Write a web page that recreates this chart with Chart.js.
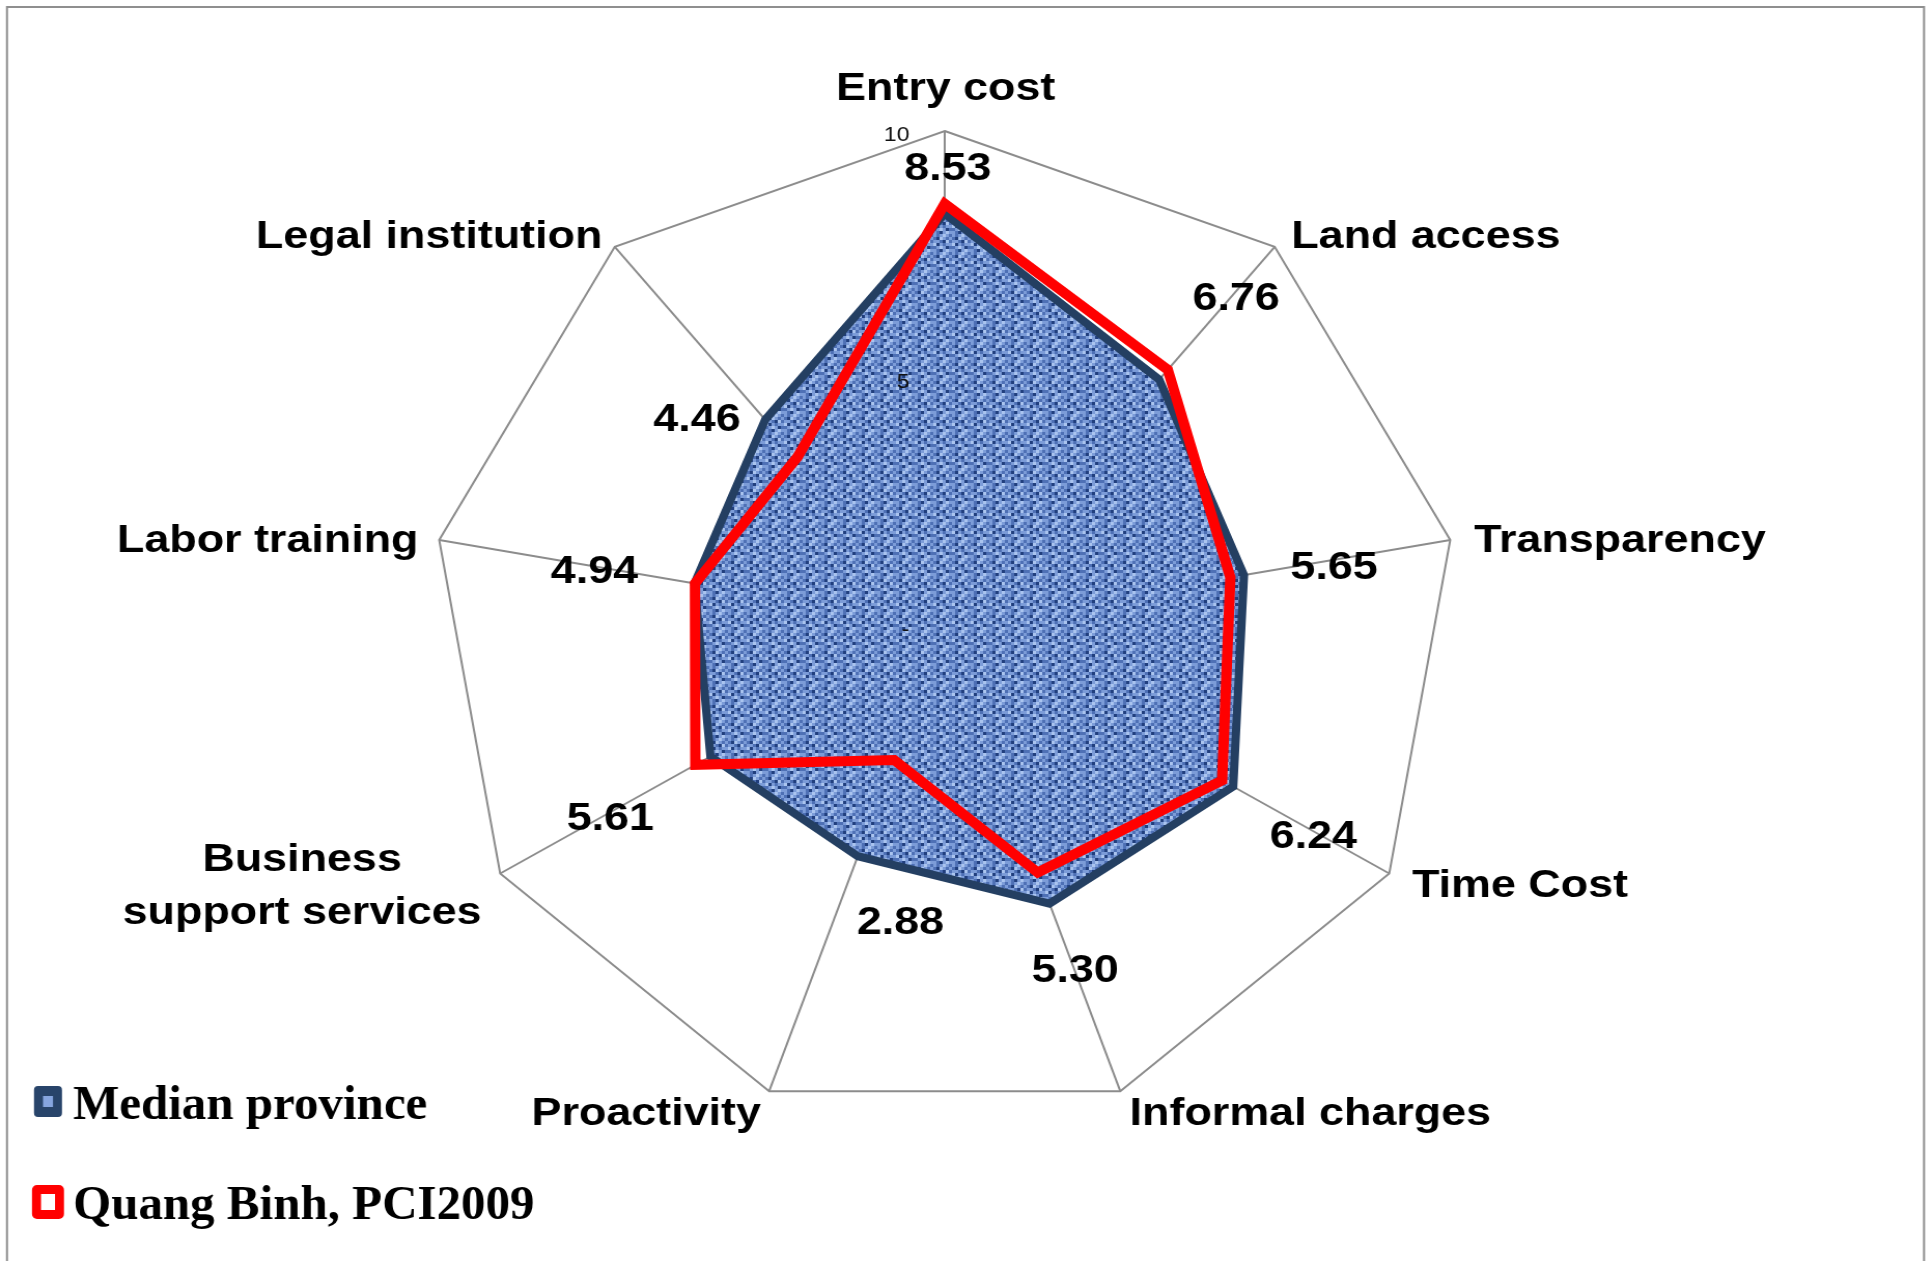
<!DOCTYPE html>
<html>
<head>
<meta charset="utf-8">
<script src="https://cdn.jsdelivr.net/npm/chart.js@4.4.1/dist/chart.umd.min.js"></script>
<style>
  html, body { margin: 0; padding: 0; background: #fff; overflow: hidden; }
  #wrap { width: 1862px; height: 1261px; transform: scaleX(1.037); transform-origin: 0 0; }
  canvas { display: block; }
</style>
</head>
<body>
<div id="wrap"><canvas id="radar" width="1862" height="1261"></canvas></div>
<script>
// data
var categories = ["Entry cost", "Land access", "Transparency", "Time Cost", "Informal charges",
                  "Proactivity", ["Business", "support services"], "Labor training", "Legal institution"];
var medianProvince = [8.33, 6.50, 5.92, 6.49, 5.97, 4.95, 5.27, 4.95, 5.44];
var quangBinh = [8.53, 6.76, 5.65, 6.24, 5.30, 2.88, 5.61, 4.94, 4.46];
var tickValues = [0, 5, 10];
var tickLabels = ["-", "5", "10"];
var seriesNames = ["Median province", "Quang Binh, PCI2009"];

// the original picture is a little wider than tall
var SX = 1.037;
var TEXT_SX = 1.15 / SX;

// where the text sits next to the outer vertex / the red point (chart px)
var catOffsets = [[1, -42, "center"], [16, -10, "left"], [23, 1, "left"], [22, 13, "left"], [9, 23, "left"],
                  [-8, 23, "right"], [-191, -13, "center"], [-20, 1, "right"], [-12, -10, "right"]];
var valOffsets = [[3, -35], [66, -70], [100, -9], [88, 57], [36, 99], [6, 163], [-82, 54], [-97, -11], [-97, -37]];

function makeWeave() {
    // coarse burlap-like tile for the median fill
    var c = document.createElement("canvas");
    c.width = 18; c.height = 18;
    var g = c.getContext("2d");
    var cols = ["#aac4ef", "#7c9cd8", "#4e70b5", "#213f7e"];
    var map = ["121012", "230121", "112302", "031211", "210132", "123101"];
    for (var y = 0; y < 6; y++) {
        for (var x = 0; x < 6; x++) {
            g.fillStyle = cols[+map[y][x]];
            g.fillRect(x * 3, y * 3, 3, 3);
        }
    }
    return g.createPattern(c, "repeat");
}

function stretchText(ctx, text, x, y, align, sx) {
    ctx.save();
    ctx.translate(x, y);
    ctx.scale(sx, 1);
    ctx.textAlign = align;
    ctx.fillText(text, 0, 0);
    ctx.restore();
}

var labelsPlugin = {
    id: "labelsPlugin",
    beforeDraw: function (chart) {
        var ctx = chart.ctx;
        ctx.save();
        ctx.strokeStyle = "#8f8f8f";
        ctx.lineWidth = 2;
        ctx.strokeRect(7 / SX, 7, 1917 / SX, 1300);
        ctx.restore();
    },
    afterDraw: function (chart) {
        var ctx = chart.ctx;
        var scale = chart.scales.r;
        ctx.save();
        ctx.fillStyle = "#000";
        ctx.textBaseline = "middle";

        // category labels
        ctx.font = "bold 39px 'Liberation Sans', Arial, sans-serif";
        categories.forEach(function (cat, i) {
            var p = scale.getPointPosition(i, scale.drawingArea);
            var o = catOffsets[i];
            var lines = Array.isArray(cat) ? cat : [cat];
            lines.forEach(function (line, j) {
                stretchText(ctx, line, p.x + o[0], p.y + o[1] + j * 53, o[2], TEXT_SX);
            });
        });

        // value labels of Quang Binh
        var meta = chart.getDatasetMeta(1);
        quangBinh.forEach(function (v, i) {
            var pt = meta.data[i];
            stretchText(ctx, v.toFixed(2), pt.x + valOffsets[i][0], pt.y + valOffsets[i][1], "center", TEXT_SX);
        });

        // tick labels, left of the vertical axis
        ctx.font = "20px 'Liberation Sans', Arial, sans-serif";
        ctx.fillStyle = "#111";
        tickValues.forEach(function (t, i) {
            var d = scale.getDistanceFromCenterForValue(t);
            stretchText(ctx, tickLabels[i], scale.xCenter - 34, scale.yCenter - d + 4, "right", TEXT_SX);
        });
        ctx.restore();

        // legend, drawn in page pixels
        ctx.save();
        ctx.scale(1 / SX, 1);
        ctx.fillStyle = "#28446a";
        ctx.beginPath();
        ctx.roundRect(34, 1086, 28, 31, 4);
        ctx.fill();
        ctx.fillStyle = "#86a5df";
        ctx.fillRect(43, 1096, 10, 11);
        ctx.fillStyle = "#ff0000";
        ctx.beginPath();
        ctx.roundRect(32, 1185, 32, 34, 5);
        ctx.fill();
        ctx.fillStyle = "#fff";
        ctx.fillRect(41, 1194, 14, 16);

        ctx.fillStyle = "#000";
        ctx.textBaseline = "alphabetic";
        ctx.textAlign = "left";
        ctx.font = "bold 49px 'Liberation Serif', 'Times New Roman', serif";
        ctx.fillText(seriesNames[0], 73, 1119);
        ctx.fillText(seriesNames[1], 73, 1219);
        ctx.restore();
    }
};

new Chart(document.getElementById("radar"), {
    type: "radar",
    data: {
        labels: categories,
        datasets: [{
            label: seriesNames[0],
            data: medianProvince,
            backgroundColor: makeWeave(),
            borderColor: "#243f62",
            borderWidth: 8,
            borderJoinStyle: "miter",
            pointRadius: 0,
            fill: true,
            order: 2
        }, {
            label: seriesNames[1],
            data: quangBinh,
            backgroundColor: "rgba(0,0,0,0)",
            borderColor: "#ff0000",
            borderWidth: 10,
            borderJoinStyle: "miter",
            pointRadius: 0,
            fill: false,
            order: 1
        }]
    },
    options: {
        responsive: false,
        animation: false,
        layout: { padding: { left: 416, right: 456, top: 131, bottom: 140 } },
        plugins: { legend: { display: false }, tooltip: { enabled: false } },
        elements: { line: { tension: 0 } },
        scales: {
            r: {
                min: 0,
                max: 10,
                ticks: { display: false, stepSize: 5 },
                pointLabels: { display: false },
                grid: {
                    color: function (c) { return c.tick && c.tick.value === 10 ? "#8c8c8c" : "rgba(0,0,0,0)"; },
                    lineWidth: 2
                },
                angleLines: { color: "#8c8c8c", lineWidth: 2 }
            }
        }
    },
    plugins: [labelsPlugin]
});
</script>
</body>
</html>
